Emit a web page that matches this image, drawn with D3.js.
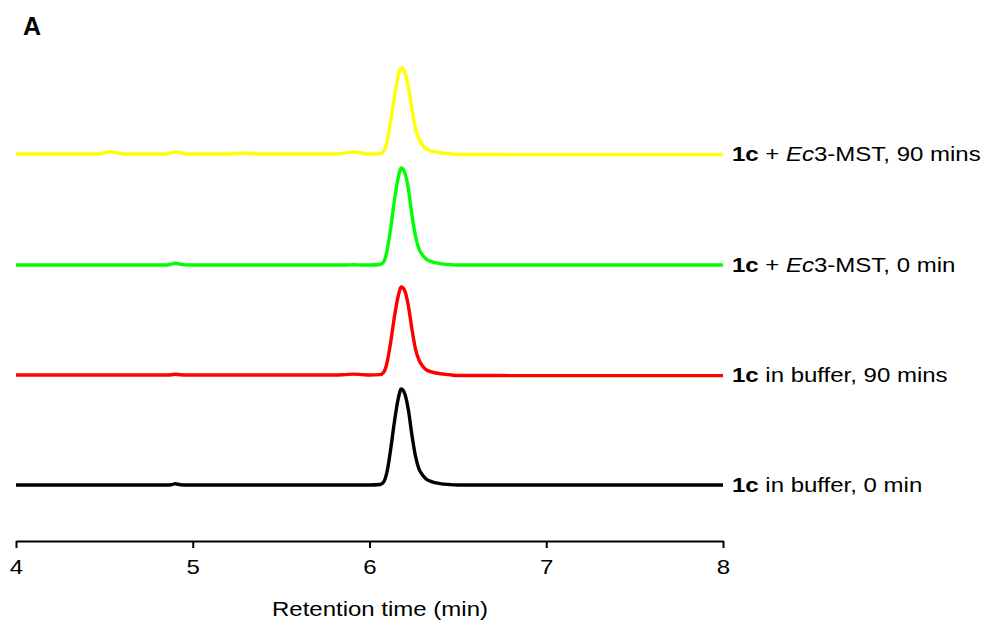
<!DOCTYPE html>
<html>
<head>
<meta charset="utf-8">
<script src="https://cdn.jsdelivr.net/npm/d3@7"></script>
<style>
  html, body { margin: 0; padding: 0; background: #fff; }
  svg { display: block; font-family: "Liberation Sans", Arial, sans-serif; }
</style>
</head>
<body>
<svg id="chart" width="985" height="628"></svg>
<script>
// Retention times (min) at which each chromatogram was sampled
const times = [4.00, 4.45, 4.50, 4.53, 4.57, 4.62, 4.85, 4.88, 4.90, 4.93, 4.97, 5.20, 5.25, 5.28, 5.32, 5.40,
               5.80, 5.86, 5.91, 5.96, 6.00, 6.06, 6.08, 6.10, 6.12, 6.14, 6.16, 6.18, 6.20, 6.22, 6.24, 6.26,
               6.28, 6.30, 6.32, 6.35, 6.40, 6.45, 6.50, 7.00, 7.50, 8.00];

// Detector response (arbitrary units) for each sample
const bufferZero   = [0, 0, 0, 0, 0, 0, 0, 0.3, 1.2, 0.3, 0, 0, 0, 0, 0, 0,
                      0, 0, 0, 0, 0, 0.5, 3, 14, 36, 62, 84, 96, 91, 75, 50, 29,
                      16, 10, 6, 3.4, 1.4, 0.5, 0, 0, 0, 0];
const buffer90     = [0, 0, 0, 0, 0, 0, 0, 0.3, 0.8, 0.3, 0, 0, 0, 0, 0, 0,
                      0, 0.4, 0.9, 0.4, 0, 0.4, 2.6, 13, 33, 57, 77, 88, 84, 69, 46, 26,
                      15, 9, 5.3, 3.1, 1.3, 0.4, -0.5, -0.6, -0.6, -0.6];
const enzymeZero   = [0, 0, 0, 0, 0, 0, 0, 0.8, 1.8, 0.8, 0, 0, 0, 0, 0, 0,
                      0, 0, 0.3, 0, 0, 0.5, 3, 15, 37, 63, 85, 97, 92, 76, 50, 29,
                      16, 10, 6, 3.4, 1.4, 0.5, 0, 0, 0, 0];
const enzyme90     = [0, 0, 1.2, 2.4, 1.2, 0, 0, 1.2, 2, 1.2, 0, 0, 0.5, 1, 0.5, 0,
                      0, 1, 2, 1, 0, 0.4, 2.6, 13, 33, 56, 76, 86, 82, 67, 45, 26,
                      15, 9, 5, 3, 1.3, 0.4, -0.5, -0.6, -0.6, -0.6];

// Vertical stacking offset of each trace (same units as the response)
const offsets = [0, 110, 220, 331];
const colors  = ["#000000", "#ff0000", "#00ff00", "#ffff00"];
const series  = [bufferZero, buffer90, enzymeZero, enzyme90];

// Legend text: bold compound id, plain text, optional italic part, plain remainder
const labelParts = [
  [["1c", "bold"], [" in buffer, 0 min", "normal"]],
  [["1c", "bold"], [" in buffer, 90 mins", "normal"]],
  [["1c", "bold"], [" + ", "normal"], ["Ec", "italic"], ["3-MST, 0 min", "normal"]],
  [["1c", "bold"], [" + ", "normal"], ["Ec", "italic"], ["3-MST, 90 mins", "normal"]]
];

const xTicks = [4, 5, 6, 7, 8];
const xTitle = "Retention time (min)";
const panelLetter = "A";

// Text in this figure is set slightly wide
const stretch = 1.2;

const svg = d3.select("#chart");

const x = d3.scaleLinear().domain([4, 8]).range([16, 723]);
const y = d3.scaleLinear().domain([0, 470]).range([485, 15]);

const line = d3.line()
  .x(d => x(d[0]))
  .y(d => y(d[1]))
  .curve(d3.curveMonotoneX);

series.forEach((vals, i) => {
  const pts = times.map((t, k) => [t, vals[k] + offsets[i]]);
  svg.append("path")
    .datum(pts)
    .attr("fill", "none")
    .attr("stroke", colors[i])
    .attr("stroke-width", 3.4)
    .attr("stroke-linejoin", "round")
    .attr("d", line);
});

// Trace labels at the right end of each baseline
labelParts.forEach((parts, i) => {
  const t = svg.append("text")
    .attr("transform", `translate(732,${y(offsets[i]) + 7}) scale(${stretch},1)`)
    .attr("font-size", 20)
    .attr("fill", "#000");
  parts.forEach(([str, style]) => {
    const s = t.append("tspan").text(str);
    if (style === "bold") s.attr("font-weight", "bold");
    if (style === "italic") s.attr("font-style", "italic");
  });
});

// Bottom axis
const axis = d3.axisBottom(x)
  .tickValues(xTicks)
  .tickFormat(d3.format("d"))
  .tickSize(7)
  .tickSizeOuter(0)
  .tickPadding(12);

const gx = svg.append("g")
  .attr("transform", "translate(0,541)")
  .call(axis);
gx.select(".domain").attr("stroke", "#000").attr("stroke-width", 2);
gx.selectAll(".tick line").attr("stroke", "#000").attr("stroke-width", 2);
gx.selectAll(".tick text")
  .attr("font-size", 20)
  .attr("font-family", "Liberation Sans, Arial, sans-serif")
  .attr("fill", "#000")
  .attr("transform", `scale(${stretch},1)`);

svg.append("text")
  .attr("transform", `translate(380,616) scale(${stretch},1)`)
  .attr("text-anchor", "middle")
  .attr("font-size", 20)
  .attr("fill", "#000")
  .text(xTitle);

svg.append("text")
  .attr("x", 23)
  .attr("y", 35)
  .attr("font-size", 25)
  .attr("font-weight", "bold")
  .attr("fill", "#000")
  .text(panelLetter);
</script>
</body>
</html>
